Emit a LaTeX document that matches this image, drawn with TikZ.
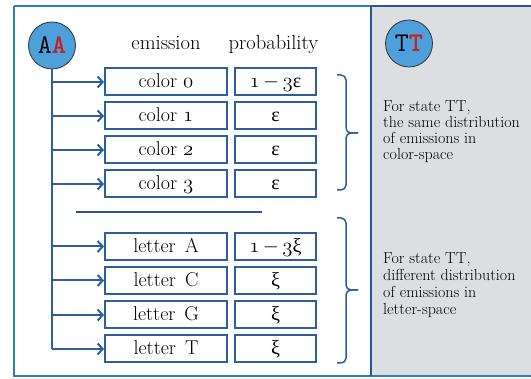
\documentclass[tikz,border=0pt]{standalone}
\usepackage{fontspec}
\newfontfamily\grk{Liberation Serif}
\usetikzlibrary{arrows.meta}
\definecolor{boxblue}{RGB}{44,94,160}
\definecolor{framebl}{RGB}{46,128,186}
\definecolor{darkbl}{RGB}{40,84,152}
\definecolor{circfill}{RGB}{77,160,218}
\definecolor{redA}{RGB}{200,30,40}
\definecolor{panelgray}{RGB}{221,222,225}
\newcommand\osn[1]{{\usefont{OML}{cmm}{m}{it}#1}}
\begin{document}
\begin{tikzpicture}[x=1pt,y=-1pt,
  cell/.style={draw=boxblue,line width=2pt,minimum height=27pt,inner sep=0pt,
    text height=15pt,text depth=3pt,font=\fontsize{20}{22}\selectfont},
  lcell/.style={cell,minimum width=122pt},
  pcell/.style={cell,minimum width=81pt},
  arr/.style={draw=boxblue,line width=2pt,-{Straight Barb[length=5pt,width=11pt]}},
  trunk/.style={draw=boxblue,line width=2pt},
  bracestyle/.style={draw=boxblue,line width=1.5pt,rounded corners=5pt},
  state/.style={circle,draw=black!80,line width=0.8pt,fill=circfill,minimum size=47pt,
    inner sep=0pt,font=\ttfamily\fontsize{27}{27}\selectfont},
  side/.style={anchor=base west,inner sep=0pt,font=\fontsize{16}{17}\selectfont},
  hdr/.style={anchor=base,inner sep=0pt,font=\fontsize{20.5}{22}\selectfont}]
\useasboundingbox (0,0) rectangle (531,379);
% panels
\fill[panelgray] (371,6) rectangle (531,376);
\draw[framebl,line width=1.5pt] (14,6) -- (14,376) -- (531,376);
\draw[framebl,line width=1.5pt] (14,6) -- (371,6);
\draw[darkbl,line width=1.5pt] (371,6) -- (531,6);
\draw[darkbl,line width=1.5pt] (371,6) -- (371,376);
% states
\node[state] (aa) at (52,45.5) {A\textcolor{redA}{\bfseries A}};
\node[state] (tt) at (409,43.5) {T\textcolor{redA}{\bfseries T}};
% headers
\node[hdr] (hem) at (166,50) {emission};
\node[hdr] (hpr) at (273.5,50) {probability};
% color rows
\node[lcell] (c0) at (166,82) {color \osn{0}};
\node[lcell] (c1) at (166,116) {color \osn{1}};
\node[lcell] (c2) at (166,150) {color \osn{2}};
\node[lcell] (c3) at (166,184) {color \osn{3}};
\node[pcell] (p0) at (275.5,82) {\osn{1}\,$-$\,\osn{3}{\grk ε}};
\node[pcell] (p1) at (275.5,116) {\grk ε};
\node[pcell] (p2) at (275.5,150) {\grk ε};
\node[pcell] (p3) at (275.5,184) {\grk ε};
% letter rows
\node[lcell] (l0) at (166,246.5) {letter\hspace{0.45em}A};
\node[lcell] (l1) at (166,280.5) {letter\hspace{0.45em}C};
\node[lcell] (l2) at (166,315) {letter\hspace{0.45em}G};
\node[lcell] (l3) at (166,349) {letter\hspace{0.45em}T};
\node[pcell] (q0) at (275.5,246.5) {\osn{1}\,$-$\,\osn{3}{\grk ξ}};
\node[pcell] (q1) at (275.5,280.5) {\grk ξ};
\node[pcell] (q2) at (275.5,315) {\grk ξ};
\node[pcell] (q3) at (275.5,349) {\grk ξ};
% trunk and arrows
\draw[trunk] (aa.south) -- (aa.south |- l3.west);
\foreach \n in {c0,c1,c2,c3,l0,l1,l2,l3}
  \draw[arr] (aa.south |- \n.west) -- (\n.west);
% separator
\draw[darkbl,line width=2pt] (76,212) -- (262,212);
% braces
\draw[bracestyle] (337,75) -- (346,75) -- (346,133) -- (358,133);
\draw[bracestyle] (337,190) -- (346,190) -- (346,133) -- (358,133);
\draw[bracestyle] (337,218) -- (346,218) -- (346,290) -- (358,290);
\draw[bracestyle] (337,363) -- (346,363) -- (346,290) -- (358,290);
% side texts
\node[side] (s1) at (383,112) {For state TT,};
\node[side] (s2) at (383,128) {the same distribution};
\node[side] (s3) at (383,144) {of emissions in};
\node[side] (s4) at (383,160) {color-space};
\node[side] (r1) at (383,264) {For state TT,};
\node[side] (r2) at (383,281) {different distribution};
\node[side] (r3) at (383,298) {of emissions in};
\node[side] (r4) at (383,315) {letter-space};
\end{tikzpicture}
\end{document}
